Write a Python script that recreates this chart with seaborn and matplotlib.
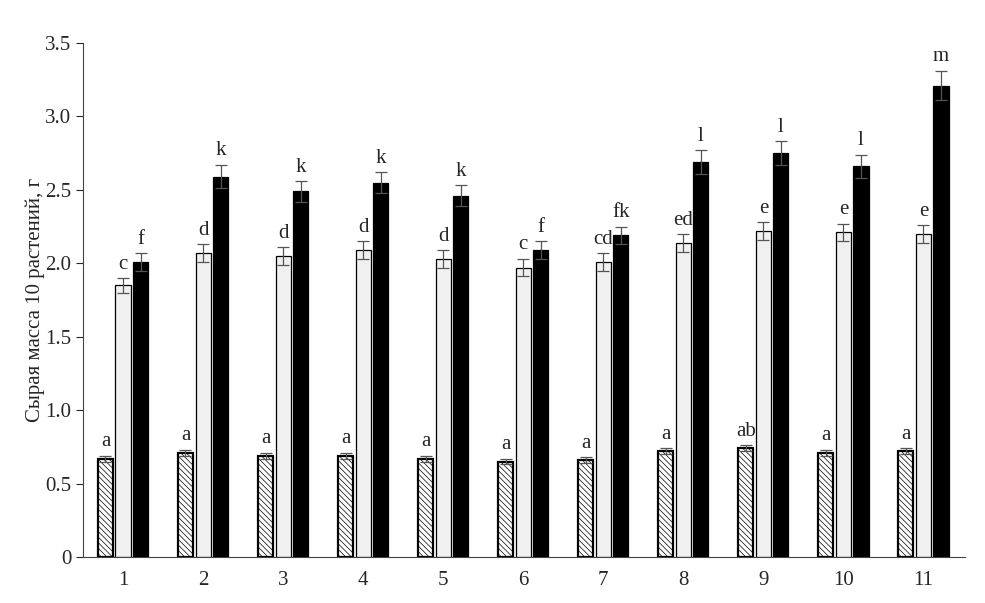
import pandas as pd
import seaborn as sns
import matplotlib.pyplot as plt

# Data
groups = ['1', '2', '3', '4', '5', '6', '7', '8', '9', '10', '11']
series = ['A', 'B', 'C']

hatched = [0.67, 0.71, 0.69, 0.69, 0.67, 0.65, 0.66, 0.72, 0.74, 0.71, 0.72]
light = [1.85, 2.07, 2.05, 2.09, 2.03, 1.97, 2.01, 2.14, 2.22, 2.21, 2.20]
black = [2.01, 2.59, 2.49, 2.55, 2.46, 2.09, 2.19, 2.69, 2.75, 2.66, 3.21]

err_hatched = [0.02, 0.02, 0.02, 0.02, 0.02, 0.02, 0.02, 0.02, 0.02, 0.02, 0.02]
err_light = [0.05, 0.06, 0.06, 0.06, 0.06, 0.06, 0.06, 0.06, 0.06, 0.06, 0.06]
err_black = [0.06, 0.08, 0.07, 0.07, 0.07, 0.06, 0.06, 0.08, 0.08, 0.08, 0.10]

lab_hatched = ['a', 'a', 'a', 'a', 'a', 'a', 'a', 'a', 'ab', 'a', 'a']
lab_light = ['c', 'd', 'd', 'd', 'd', 'c', 'cd', 'ed', 'e', 'e', 'e']
lab_black = ['f', 'k', 'k', 'k', 'k', 'f', 'fk', 'l', 'l', 'l', 'm']

df = pd.DataFrame({
    'group': groups * 3,
    'series': [s for s in series for _ in groups],
    'value': hatched + light + black,
})

sns.set_style('ticks')
plt.rcParams['font.family'] = 'serif'
plt.rcParams['font.serif'] = ['Liberation Serif', 'DejaVu Serif']
plt.rcParams['hatch.linewidth'] = 0.5

fig = plt.figure(figsize=(9.85, 6.03), dpi=100)
ax = fig.add_axes([0.0843, 0.0763, 0.8954, 0.8524])

sns.barplot(data=df, x='group', y='value', hue='series', order=groups,
            hue_order=series, width=0.66, gap=0.14, errorbar=None,
            legend=False, ax=ax)

styles = [
    dict(facecolor='white', edgecolor='black', hatch='\\\\\\\\\\\\', linewidth=1.6),
    dict(facecolor='#f0f0f0', edgecolor='black', hatch=None, linewidth=0.9),
    dict(facecolor='black', edgecolor='black', hatch=None, linewidth=0.9),
]
errs = [err_hatched, err_light, err_black]
labs = [lab_hatched, lab_light, lab_black]

for cont, st, er, lb in zip(ax.containers, styles, errs, labs):
    xs, ys = [], []
    for bar in cont:
        bar.set_facecolor(st['facecolor'])
        bar.set_edgecolor(st['edgecolor'])
        bar.set_linewidth(st['linewidth'])
        if st['hatch']:
            bar.set_hatch(st['hatch'])
        xs.append(bar.get_x() + bar.get_width() / 2)
        ys.append(bar.get_height())
    ax.errorbar(xs, ys, yerr=er, fmt='none', ecolor='#555555',
                elinewidth=0.9, capsize=4, capthick=0.9, zorder=5)
    for x, y, e, t in zip(xs, ys, er, lb):
        ax.text(x, y + e + 0.03, t, ha='center', va='bottom', fontsize=15)

ax.set_ylim(0, 3.5)
ax.set_xlim(-0.5, 10.52)
ax.set_yticks([0, 0.5, 1.0, 1.5, 2.0, 2.5, 3.0, 3.5])
ax.set_yticklabels(['0', '0.5', '1.0', '1.5', '2.0', '2.5', '3.0', '3.5'])
ax.tick_params(axis='y', labelsize=15, length=5, width=0.8, direction='out')
ax.tick_params(axis='x', labelsize=15, length=0, pad=10)
ax.set_xlabel('')
ax.set_ylabel('Сырая масса 10 растений, г', fontsize=15, labelpad=0)
ax.yaxis.set_label_coords(-0.043, 0.5)
sns.despine(ax=ax)
for sp in ['left', 'bottom']:
    ax.spines[sp].set_linewidth(0.8)
    ax.spines[sp].set_color('#444444')

fig.savefig('out.png', dpi=100)
